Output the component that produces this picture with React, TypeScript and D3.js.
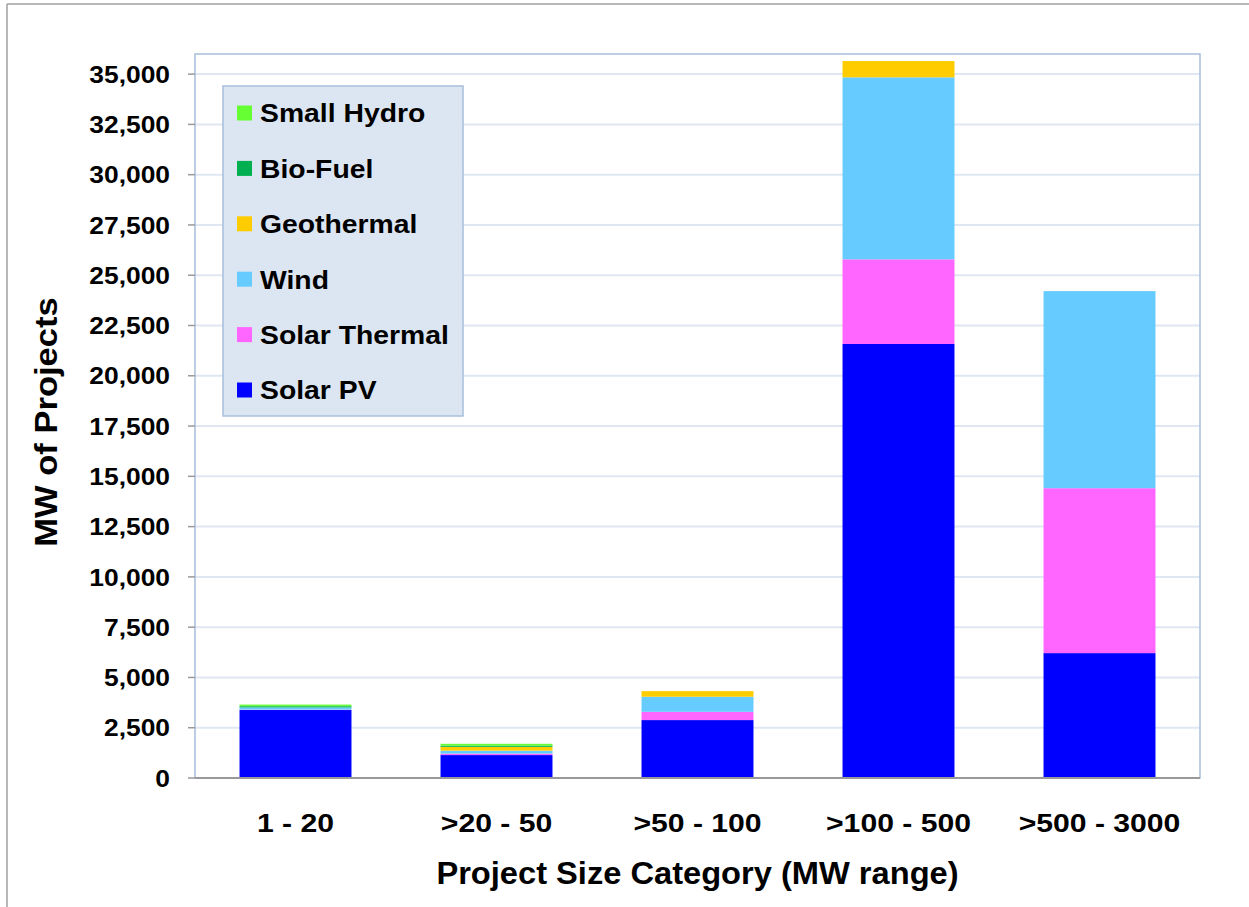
import React from "react";
import * as d3 from "d3";

const categories = ["1 - 20", ">20 - 50", ">50 - 100", ">100 - 500", ">500 - 3000"];
const seriesNames = ["Solar PV", "Solar Thermal", "Wind", "Geothermal", "Bio-Fuel", "Small Hydro"];
const solarPV = [3380, 1140, 2880, 21580, 6210];
const solarThermal = [20, 70, 410, 4210, 8200];
const wind = [110, 150, 750, 9050, 9800];
const geothermal = [0, 190, 280, 810, 0];
const bioFuel = [60, 60, 0, 0, 0];
const smallHydro = [80, 90, 0, 0, 0];
const yTicks = [0, 2500, 5000, 7500, 10000, 12500, 15000, 17500, 20000, 22500, 25000, 27500, 30000, 32500, 35000];
const legendOrder = ["Small Hydro", "Bio-Fuel", "Geothermal", "Wind", "Solar Thermal", "Solar PV"];

const colors: Record<string, string> = {
  "Solar PV": "#0000ff",
  "Solar Thermal": "#ff66ff",
  Wind: "#66ccff",
  Geothermal: "#ffcc00",
  "Bio-Fuel": "#00b050",
  "Small Hydro": "#66ff33",
};

const W = 1249;
const H = 907;
const plot = { left: 195, right: 1200, top: 54, bottom: 778 };
const FONT = "'Liberation Sans', Arial, sans-serif";

export default function App() {
  const seriesValues = [solarPV, solarThermal, wind, geothermal, bioFuel, smallHydro];
  const table = categories.map((c, i) => {
    const row: Record<string, number | string> = { cat: c };
    seriesNames.forEach((s, k) => (row[s] = seriesValues[k][i]));
    return row;
  });
  const stack = d3.stack<any>().keys(seriesNames)(table as any);

  const x = d3
    .scaleBand<string>()
    .domain(categories)
    .range([plot.left, plot.right])
    .paddingInner(0.443)
    .paddingOuter(0.2215);
  const y = d3.scaleLinear().domain([0, 36000]).range([plot.bottom, plot.top]);
  const fmt = d3.format(",");

  const legend = { x: 223, y: 86, w: 240, h: 330 };

  return (
    <svg width={W} height={H} style={{ position: "absolute", left: 0, top: 0 }}>
      <rect x={0} y={0} width={W} height={H} fill="#ffffff" />
      {/* outer frame */}
      <line x1={7} y1={4} x2={W} y2={4} stroke="#a0a0a0" strokeWidth={1.5} />
      <line x1={7} y1={4} x2={7} y2={H} stroke="#a0a0a0" strokeWidth={1.5} />

      {/* gridlines */}
      {yTicks.map((t) => (
        <line key={t} x1={plot.left} x2={plot.right} y1={y(t)} y2={y(t)} stroke="#dfe7f2" strokeWidth={2} />
      ))}
      {/* plot border */}
      <rect
        x={plot.left}
        y={plot.top}
        width={plot.right - plot.left}
        height={plot.bottom - plot.top}
        fill="none"
        stroke="#a8bfdc"
        strokeWidth={1.5}
      />

      {/* bars */}
      {stack.map((layer) => (
        <g key={layer.key} fill={colors[layer.key]}>
          {layer.map((d, i) =>
            d[1] - d[0] > 0 ? (
              <rect
                key={i}
                x={x(categories[i])}
                width={x.bandwidth()}
                y={y(d[1])}
                height={y(d[0]) - y(d[1])}
              />
            ) : null
          )}
        </g>
      ))}

      {/* x axis line */}
      <line x1={plot.left} x2={plot.right} y1={plot.bottom} y2={plot.bottom} stroke="#999999" strokeWidth={2} />

      {/* y ticks */}
      {yTicks.map((t) => (
        <g key={t}>
          <line x1={188} x2={plot.left} y1={y(t)} y2={y(t)} stroke="#999999" strokeWidth={1.5} />
          <text
            transform={`translate(170, ${y(t)}) scale(1.1, 1)`}
            dy="0.36em"
            textAnchor="end"
            fontFamily={FONT}
            fontWeight="bold"
            fontSize={24}
            fill="#000"
          >
            {fmt(t)}
          </text>
        </g>
      ))}

      {/* category labels */}
      {categories.map((c) => (
        <text
          key={c}
          transform={`translate(${(x(c) as number) + x.bandwidth() / 2}, 832) scale(1.16, 1)`}
          textAnchor="middle"
          fontFamily={FONT}
          fontWeight="bold"
          fontSize={26}
          fill="#000"
        >
          {c}
        </text>
      ))}

      {/* axis titles */}
      <text
        transform={`translate(${(437 + 958) / 2}, 884) scale(1.02, 1)`}
        textAnchor="middle"
        fontFamily={FONT}
        fontWeight="bold"
        fontSize={32}
        fill="#000"
      >
        Project Size Category (MW range)
      </text>
      <text
        transform={`translate(57, 422) rotate(-90) scale(1.08, 1)`}
        textAnchor="middle"
        fontFamily={FONT}
        fontWeight="bold"
        fontSize={32}
        fill="#000"
      >
        MW of Projects
      </text>

      {/* legend */}
      <rect x={legend.x} y={legend.y} width={legend.w} height={legend.h} fill="#dce6f2" stroke="#a8bfdc" strokeWidth={1.5} />
      {legendOrder.map((name, i) => {
        const cy = 113 + i * 55.4;
        return (
          <g key={name}>
            <rect x={237} y={cy - 7.5} width={15} height={15} fill={colors[name]} />
            <text
              transform={`translate(260, ${cy}) scale(1.09, 1)`}
              dy="0.36em"
              fontFamily={FONT}
              fontWeight="bold"
              fontSize={26}
              fill="#000"
            >
              {name}
            </text>
          </g>
        );
      })}
    </svg>
  );
}
